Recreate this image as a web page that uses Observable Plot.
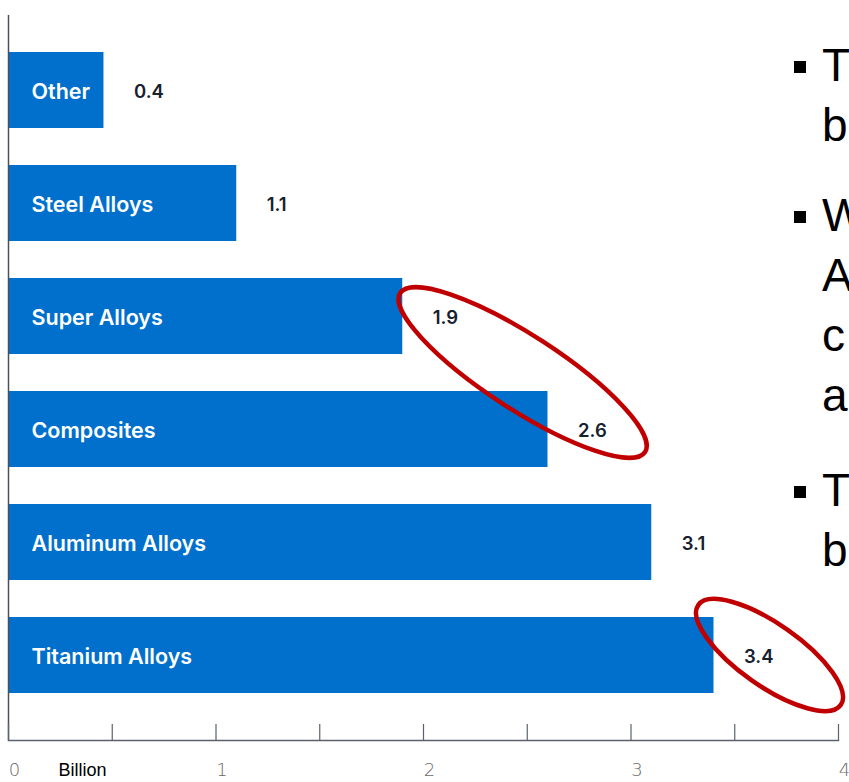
<!DOCTYPE html>
<html>
<head>
<meta charset="utf-8">
<script src="https://cdn.jsdelivr.net/npm/d3@7"></script>
<script src="https://cdn.jsdelivr.net/npm/@observablehq/plot@0.6"></script>
<style>
  html, body { margin: 0; padding: 0; background: #fff; }
  #wrap { position: relative; width: 849px; height: 782px; overflow: hidden; }
  #chart { position: absolute; left: 0; top: 0; }
  .side { position: absolute; left: 0; top: 0; width: 849px; height: 782px; font-family: "Liberation Sans", Arial, sans-serif; font-size: 46px; color: #000; pointer-events: none; }
  .side .ln { position: absolute; left: 822px; white-space: nowrap; line-height: 1; }
  .side .bul { position: absolute; left: 794px; width: 12px; height: 12px; background: #000; }
</style>
</head>
<body>
<div id="wrap">
  <div id="chart"></div>
  <div class="side" id="side"></div>
</div>
<script>
// ---- data ----
const categories = ["Other", "Steel Alloys", "Super Alloys", "Composites", "Aluminum Alloys", "Titanium Alloys"];
const values = [0.46, 1.1, 1.9, 2.6, 3.1, 3.4];
const valueLabels = ["0.4", "1.1", "1.9", "2.6", "3.1", "3.4"];
const xTickLabels = [0, 1, 2, 3, 4];
const xMinorTicks = [0, 0.5, 1, 1.5, 2, 2.5, 3, 3.5, 4];
const unitLabel = "Billion";
const highlightGroups = [["Super Alloys", "Composites"], ["Titanium Alloys"]];
const highlightCenterX = [2.48, 3.67];
// visible (clipped) fragments of the slide text on the right
const sideBulletLines = [["T", "b"], ["W", "A", "c", "a"], ["T", "b"]];

const data = categories.map((c, i) => ({category: c, value: values[i], label: valueLabels[i]}));

// red ellipses as a custom mark using the plot's scales
const ellipseShapes = [
  {rx: 146, ry: 37, angle: 33},
  {rx: 87, ry: 31, angle: 35}
];
function highlightMark(index, scales) {
  const g = d3.create("svg:g");
  highlightGroups.forEach((cats, i) => {
    const cy = d3.mean(cats, c => scales.y(c) + scales.y.bandwidth() / 2);
    const cx = scales.x(highlightCenterX[i]);
    const s = ellipseShapes[i];
    g.append("ellipse")
      .attr("cx", 0).attr("cy", 0)
      .attr("rx", s.rx).attr("ry", s.ry)
      .attr("transform", `translate(${cx},${cy}) rotate(${s.angle})`)
      .attr("fill", "none")
      .attr("stroke", "#c00000")
      .attr("stroke-width", 4.5);
  });
  return g.node();
}

const chart = Plot.plot({
  width: 849,
  height: 782,
  marginLeft: 8,
  marginRight: 11,
  marginTop: 15,
  marginBottom: 42,
  style: {background: "transparent", fontFamily: "Inter, 'Noto Sans', sans-serif"},
  x: {domain: [0, 4], axis: null},
  y: {domain: categories, range: [5.5, 740], paddingInner: 0.328, paddingOuter: 0.411, axis: null},
  marks: [
    Plot.barX(data, {x: "value", y: "category", fill: "#0070cc"}),
    Plot.text(data, {x: 0, y: "category", text: "category", textAnchor: "start", dx: 23, dy: 2, fill: "#ffffff", fontSize: 21.5, fontWeight: 600, letterSpacing: 0.3}),
    Plot.text(data, {x: "value", y: "category", text: "label", textAnchor: "start", dx: 30, dy: 2, fill: "#17202e", fontSize: 18.5, fontWeight: 600, letterSpacing: 0.6}),
    Plot.ruleX([0], {stroke: "#4a4f58", strokeWidth: 1.5}),
    Plot.frame({anchor: "bottom", stroke: "#5a6270", strokeWidth: 1.5}),
    Plot.axisX(xMinorTicks, {tickSize: -16, text: null, stroke: "#5a6270", strokeWidth: 1.2, label: null}),
    Plot.axisX(xTickLabels, {tickSize: 0, tickPadding: 23, dx: 6, fontSize: 18, fill: "#6a6a6a", fontWeight: 200, fontFamily: "'DejaVu Sans', sans-serif", tickFormat: d => String(d), label: null}),
    Plot.text([unitLabel], {frameAnchor: "bottom-left", dx: 50, dy: 35, textAnchor: "start", fontSize: 18, fill: "#000", fontFamily: "'Liberation Sans', Arial, sans-serif"}),
    highlightMark
  ]
});
document.getElementById("chart").appendChild(chart);

// side text (clipped by the page edge, as in the slide)
const side = document.getElementById("side");
const paraTops = [50, 200, 475];
const lineStep = 60;
sideBulletLines.forEach((lines, p) => {
  const bul = document.createElement("div");
  bul.className = "bul";
  bul.style.top = (paraTops[p] + 11) + "px";
  side.appendChild(bul);
  lines.forEach((t, j) => {
    const d = document.createElement("div");
    d.className = "ln";
    d.textContent = t;
    d.style.top = (paraTops[p] - 8 + j * lineStep) + "px";
    side.appendChild(d);
  });
});
</script>
</body>
</html>
